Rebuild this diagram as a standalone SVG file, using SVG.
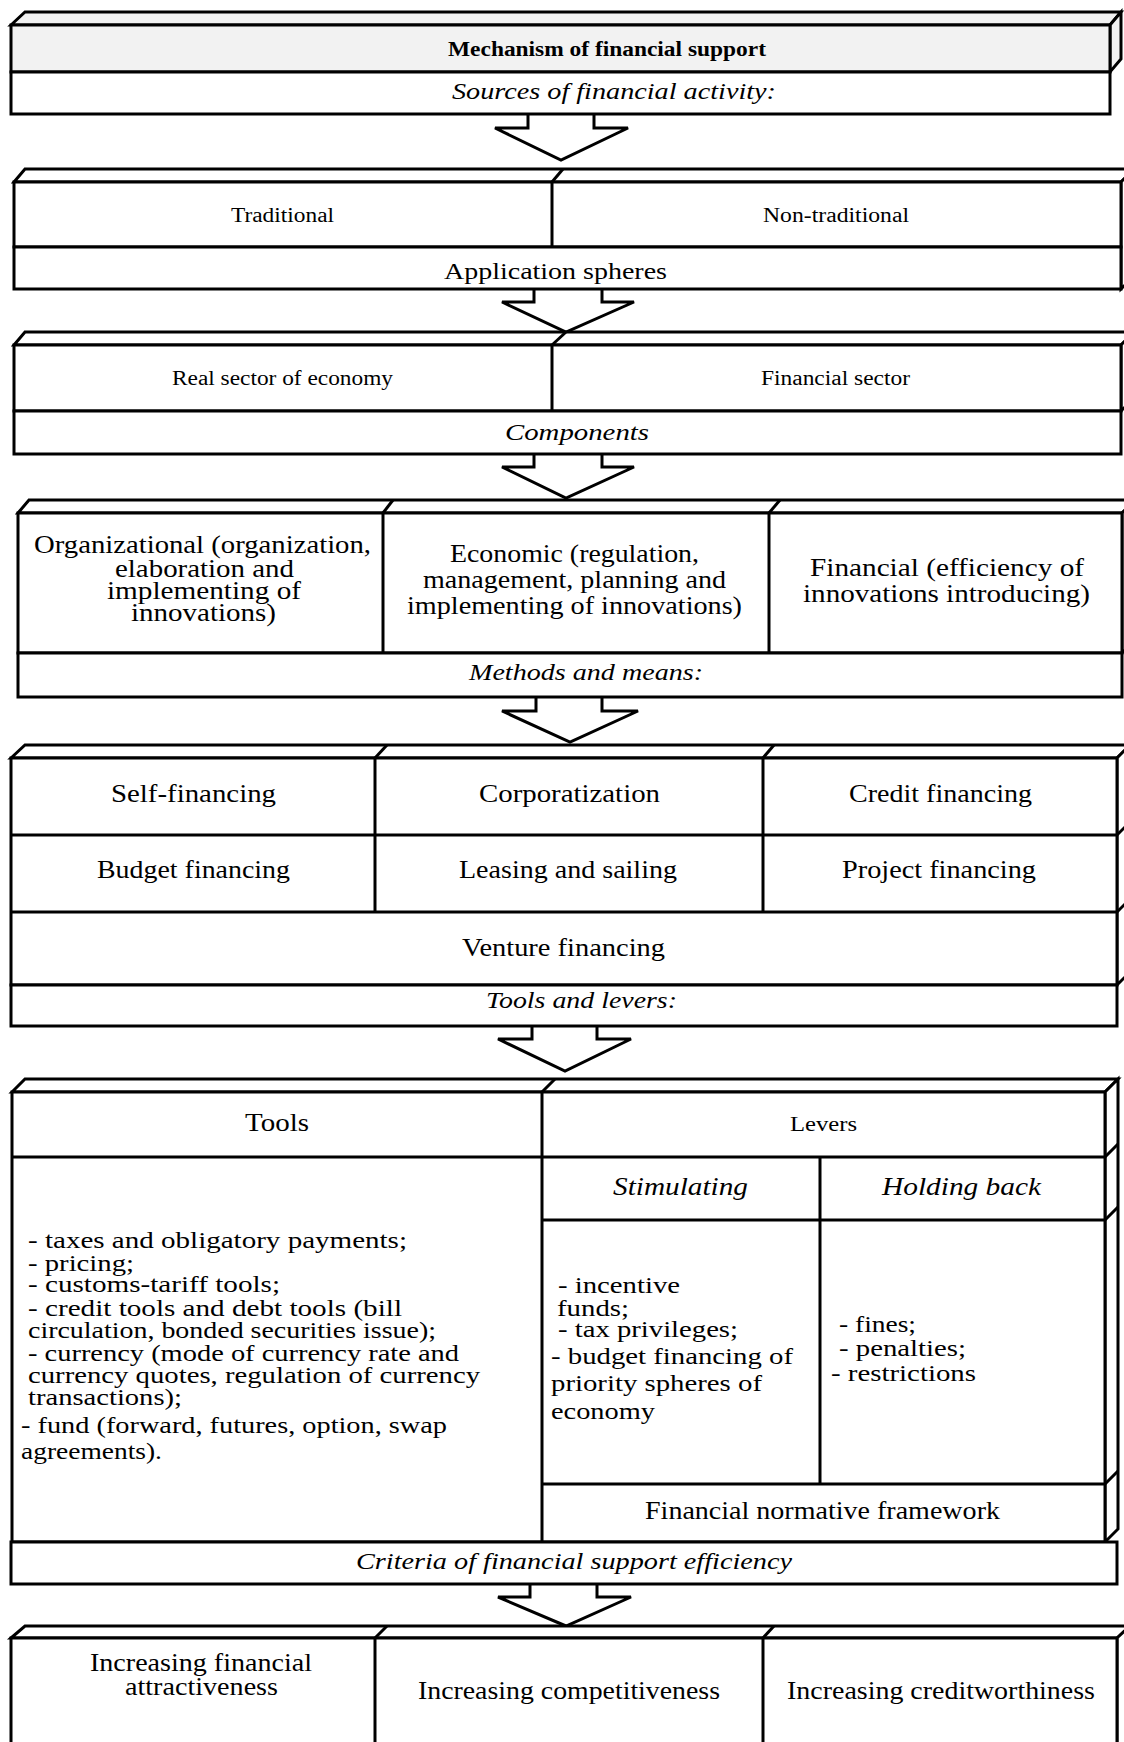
<svg xmlns="http://www.w3.org/2000/svg" width="1124" height="1742" viewBox="0 0 1124 1742">
<style>
.b{fill:#fff;stroke:#000;stroke-width:3;stroke-linejoin:miter}
.g{fill:#f2f2f2;stroke:#000;stroke-width:3}
.l{fill:none;stroke:#000;stroke-width:3}
.a{fill:#fff;stroke:#000;stroke-width:3;stroke-linejoin:miter}
text{font-family:"Liberation Serif","Times New Roman",serif;fill:#000}
.i{font-style:italic}
.bo{font-weight:bold}
</style>
<rect x="0" y="0" width="1124" height="1742" fill="#fff"/>

<g id="connectors">
<polyline class="a" points="528,114 528,128 495,128 561,160 628,128 594,128 594,114"/>
<polyline class="a" points="534,289 534,302 502,302 566,332 634,302 602,302 602,289"/>
<polyline class="a" points="534,454 534,467 502,467 566,498 634,467 602,467 602,454"/>
<polyline class="a" points="536,697 536,711 502,711 570,742 638,711 602,711 602,697"/>
<polyline class="a" points="532,1026 532,1039 498,1039 565,1071 631,1039 597,1039 597,1026"/>
<polyline class="a" points="530,1584 530,1597 498,1597 566,1626 631,1597 597,1597 597,1584"/>
</g>

<g id="mechanism">
<polygon class="g" points="11,25 25,12 1121,12 1110,25"/>
<polygon class="g" points="1110,25 1121,12 1121,59 1110,72"/>
<rect class="g" x="11" y="25" width="1099" height="47"/>
<rect class="b" x="11" y="72" width="1099" height="42"/>
<text class="bo" x="448" y="56" font-size="20" textLength="318" lengthAdjust="spacingAndGlyphs">Mechanism of financial support</text>
<text class="i" x="452" y="99" font-size="24" textLength="324" lengthAdjust="spacingAndGlyphs">Sources of financial activity:</text>
</g>

<g id="sources">
<polygon class="b" points="14,182 25,169 1134,169 1121,182"/>
<line class="l" x1="552" y1="182" x2="563" y2="169"/>
<polygon class="b" points="1121,182 1134,169 1134,276 1121,289"/>
<rect class="b" x="14" y="182" width="1107" height="65"/>
<line class="l" x1="552" y1="182" x2="552" y2="247"/>
<rect class="b" x="14" y="247" width="1107" height="42"/>
<text x="231" y="222" font-size="20" textLength="103" lengthAdjust="spacingAndGlyphs">Traditional</text>
<text x="763" y="222" font-size="20" textLength="146" lengthAdjust="spacingAndGlyphs">Non-traditional</text>
<text x="444" y="279" font-size="24" textLength="223" lengthAdjust="spacingAndGlyphs">Application spheres</text>
</g>

<g id="spheres">
<polygon class="b" points="14,345 25,332 1134,332 1121,345"/>
<line class="l" x1="552" y1="345" x2="566" y2="332"/>
<polygon class="b" points="1121,345 1134,332 1134,398 1121,411"/>
<rect class="b" x="14" y="345" width="1107" height="66"/>
<line class="l" x1="552" y1="345" x2="552" y2="411"/>
<rect class="b" x="14" y="411" width="1107" height="43"/>
<text x="172" y="385" font-size="20" textLength="221" lengthAdjust="spacingAndGlyphs">Real sector of economy</text>
<text x="761" y="385" font-size="20" textLength="149" lengthAdjust="spacingAndGlyphs">Financial sector</text>
<text class="i" x="505" y="440" font-size="24" textLength="144" lengthAdjust="spacingAndGlyphs">Components</text>
</g>

<g id="components">
<polygon class="b" points="18,513 29,500 1135,500 1122,513"/>
<line class="l" x1="383" y1="513" x2="393" y2="500"/>
<line class="l" x1="769" y1="513" x2="780" y2="500"/>
<polygon class="b" points="1122,513 1135,500 1135,640 1122,653"/>
<rect class="b" x="18" y="513" width="1104" height="140"/>
<line class="l" x1="383" y1="513" x2="383" y2="653"/>
<line class="l" x1="769" y1="513" x2="769" y2="653"/>
<rect class="b" x="18" y="653" width="1104" height="44"/>
<text x="34" y="553" font-size="25" textLength="337" lengthAdjust="spacingAndGlyphs">Organizational (organization,</text>
<text x="115" y="577" font-size="25" textLength="179" lengthAdjust="spacingAndGlyphs">elaboration and</text>
<text x="107" y="599" font-size="25" textLength="194" lengthAdjust="spacingAndGlyphs">implementing of</text>
<text x="131" y="621" font-size="25" textLength="145" lengthAdjust="spacingAndGlyphs">innovations)</text>
<text x="450" y="562" font-size="25" textLength="249" lengthAdjust="spacingAndGlyphs">Economic (regulation,</text>
<text x="423" y="588" font-size="25" textLength="303" lengthAdjust="spacingAndGlyphs">management, planning and</text>
<text x="407" y="614" font-size="25" textLength="335" lengthAdjust="spacingAndGlyphs">implementing of innovations)</text>
<text x="810" y="576" font-size="25" textLength="274" lengthAdjust="spacingAndGlyphs">Financial (efficiency of</text>
<text x="803" y="602" font-size="25" textLength="287" lengthAdjust="spacingAndGlyphs">innovations introducing)</text>
<text class="i" x="469" y="680" font-size="24" textLength="234" lengthAdjust="spacingAndGlyphs">Methods and means:</text>
</g>

<g id="methods">
<polygon class="b" points="11,758 25,745 1130,745 1117,758"/>
<line class="l" x1="375" y1="758" x2="387" y2="745"/>
<line class="l" x1="763" y1="758" x2="774" y2="745"/>
<polygon class="b" points="1117,758 1130,745 1130,972 1117,985"/>
<line class="l" x1="1117" y1="835" x2="1130" y2="822"/>
<line class="l" x1="1117" y1="912" x2="1130" y2="899"/>
<rect class="b" x="11" y="758" width="1106" height="227"/>
<line class="l" x1="11" y1="835" x2="1117" y2="835"/>
<line class="l" x1="11" y1="912" x2="1117" y2="912"/>
<line class="l" x1="375" y1="758" x2="375" y2="912"/>
<line class="l" x1="763" y1="758" x2="763" y2="912"/>
<rect class="b" x="11" y="985" width="1106" height="41"/>
<text x="111" y="802" font-size="26" textLength="165" lengthAdjust="spacingAndGlyphs">Self-financing</text>
<text x="479" y="802" font-size="26" textLength="181" lengthAdjust="spacingAndGlyphs">Corporatization</text>
<text x="849" y="802" font-size="26" textLength="183" lengthAdjust="spacingAndGlyphs">Credit financing</text>
<text x="97" y="878" font-size="26" textLength="193" lengthAdjust="spacingAndGlyphs">Budget financing</text>
<text x="459" y="878" font-size="26" textLength="218" lengthAdjust="spacingAndGlyphs">Leasing and sailing</text>
<text x="842" y="878" font-size="26" textLength="194" lengthAdjust="spacingAndGlyphs">Project financing</text>
<text x="462" y="956" font-size="26" textLength="203" lengthAdjust="spacingAndGlyphs">Venture financing</text>
<text class="i" x="486" y="1008" font-size="24" textLength="191" lengthAdjust="spacingAndGlyphs">Tools and levers:</text>
</g>

<g id="tools-levers">
<polygon class="b" points="12,1092 25,1079 1118,1079 1105,1092"/>
<line class="l" x1="542" y1="1092" x2="555" y2="1079"/>
<polygon class="b" points="1105,1092 1118,1079 1118,1529 1105,1542"/>
<line class="l" x1="1105" y1="1157" x2="1118" y2="1144"/>
<line class="l" x1="1105" y1="1220" x2="1118" y2="1207"/>
<line class="l" x1="1105" y1="1484" x2="1118" y2="1471"/>
<rect class="b" x="12" y="1092" width="1093" height="450"/>
<line class="l" x1="12" y1="1157" x2="1105" y2="1157"/>
<line class="l" x1="542" y1="1092" x2="542" y2="1542"/>
<line class="l" x1="542" y1="1220" x2="1105" y2="1220"/>
<line class="l" x1="542" y1="1484" x2="1105" y2="1484"/>
<line class="l" x1="820" y1="1157" x2="820" y2="1484"/>
<text x="245" y="1131" font-size="26" textLength="64" lengthAdjust="spacingAndGlyphs">Tools</text>
<text x="790" y="1131" font-size="21" textLength="67" lengthAdjust="spacingAndGlyphs">Levers</text>
<text class="i" x="613" y="1195" font-size="25" textLength="135" lengthAdjust="spacingAndGlyphs">Stimulating</text>
<text class="i" x="882" y="1195" font-size="25" textLength="159" lengthAdjust="spacingAndGlyphs">Holding back</text>
<text x="28" y="1248" font-size="24" textLength="379" lengthAdjust="spacingAndGlyphs">- taxes and obligatory payments;</text>
<text x="28" y="1271" font-size="24" textLength="106" lengthAdjust="spacingAndGlyphs">- pricing;</text>
<text x="28" y="1292" font-size="24" textLength="252" lengthAdjust="spacingAndGlyphs">- customs-tariff tools;</text>
<text x="28" y="1316" font-size="24" textLength="374" lengthAdjust="spacingAndGlyphs">- credit tools and debt tools (bill</text>
<text x="28" y="1338" font-size="24" textLength="408" lengthAdjust="spacingAndGlyphs">circulation, bonded securities issue);</text>
<text x="28" y="1361" font-size="24" textLength="431" lengthAdjust="spacingAndGlyphs">- currency (mode of currency rate and</text>
<text x="28" y="1383" font-size="24" textLength="452" lengthAdjust="spacingAndGlyphs">currency quotes, regulation of currency</text>
<text x="28" y="1405" font-size="24" textLength="154" lengthAdjust="spacingAndGlyphs">transactions);</text>
<text x="21" y="1433" font-size="24" textLength="426" lengthAdjust="spacingAndGlyphs">- fund (forward, futures, option, swap</text>
<text x="21" y="1459" font-size="24" textLength="141" lengthAdjust="spacingAndGlyphs">agreements).</text>
<text x="558" y="1293" font-size="24" textLength="122" lengthAdjust="spacingAndGlyphs">- incentive</text>
<text x="557" y="1316" font-size="24" textLength="72" lengthAdjust="spacingAndGlyphs">funds;</text>
<text x="558" y="1337" font-size="24" textLength="180" lengthAdjust="spacingAndGlyphs">- tax privileges;</text>
<text x="551" y="1364" font-size="24" textLength="242" lengthAdjust="spacingAndGlyphs">- budget financing of</text>
<text x="551" y="1391" font-size="24" textLength="211" lengthAdjust="spacingAndGlyphs">priority spheres of</text>
<text x="551" y="1419" font-size="24" textLength="104" lengthAdjust="spacingAndGlyphs">economy</text>
<text x="839" y="1332" font-size="24" textLength="77" lengthAdjust="spacingAndGlyphs">- fines;</text>
<text x="839" y="1356" font-size="24" textLength="127" lengthAdjust="spacingAndGlyphs">- penalties;</text>
<text x="831" y="1381" font-size="24" textLength="145" lengthAdjust="spacingAndGlyphs">- restrictions</text>
<text x="645" y="1519" font-size="25" textLength="355" lengthAdjust="spacingAndGlyphs">Financial normative framework</text>
</g>

<g id="criteria">
<rect class="b" x="11" y="1542" width="1106" height="42"/>
<text class="i" x="356" y="1569" font-size="24" textLength="436" lengthAdjust="spacingAndGlyphs">Criteria of financial support efficiency</text>
</g>

<g id="results">
<polygon class="b" points="11,1638 25,1626 1130,1626 1117,1638"/>
<line class="l" x1="375" y1="1638" x2="387" y2="1626"/>
<line class="l" x1="763" y1="1638" x2="774" y2="1626"/>
<polygon class="b" points="1117,1638 1130,1626 1130,1760 1117,1770"/>
<rect class="b" x="11" y="1638" width="1106" height="130"/>
<line class="l" x1="375" y1="1638" x2="375" y2="1770"/>
<line class="l" x1="763" y1="1638" x2="763" y2="1770"/>
<text x="90" y="1671" font-size="25" textLength="222" lengthAdjust="spacingAndGlyphs">Increasing financial</text>
<text x="125" y="1695" font-size="25" textLength="153" lengthAdjust="spacingAndGlyphs">attractiveness</text>
<text x="418" y="1699" font-size="25" textLength="302" lengthAdjust="spacingAndGlyphs">Increasing competitiveness</text>
<text x="787" y="1699" font-size="25" textLength="308" lengthAdjust="spacingAndGlyphs">Increasing creditworthiness</text>
</g>
</svg>
